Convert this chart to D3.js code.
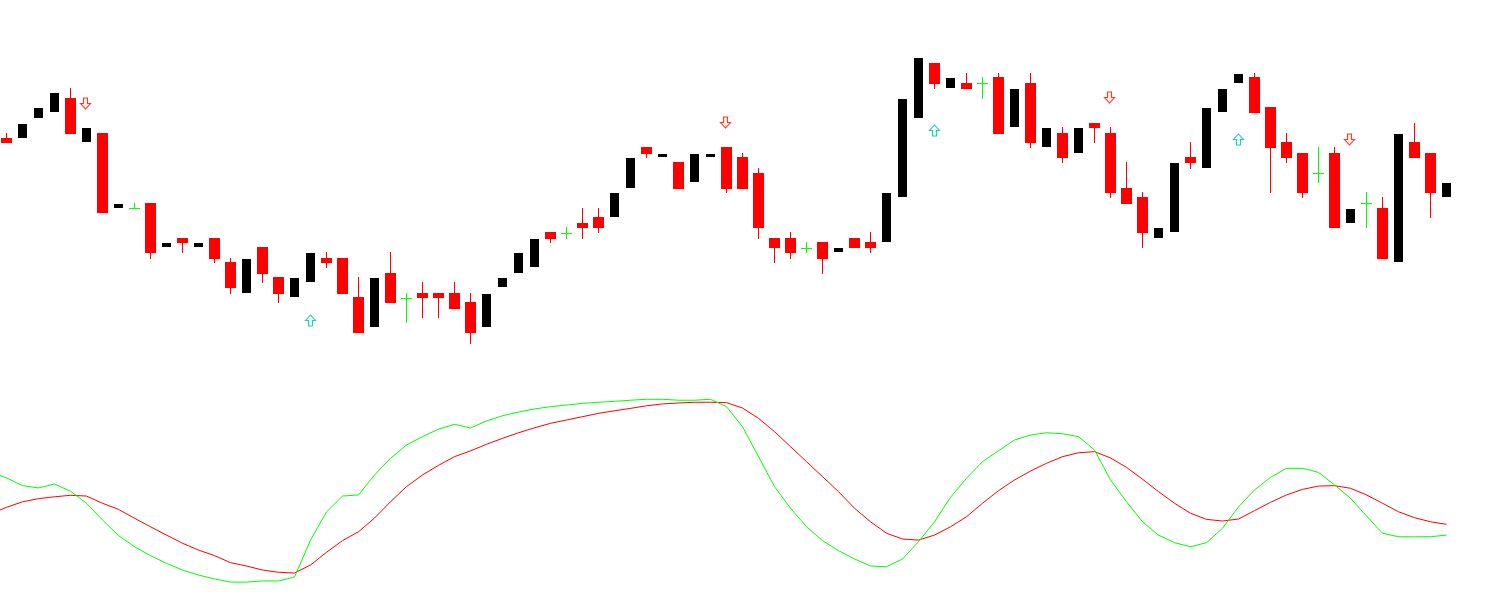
<!DOCTYPE html>
<head>
<meta charset="utf-8">
<script src="https://d3js.org/d3.v7.min.js"></script>
</head>
<body style="margin:0;background:#fff">
<style>
  * { font-family: "DejaVu Sans"; }
  svg { display:block; }
</style>
<div id="viz"></div>
<script>

// price bars (one per bar, left to right)
var openP = [1.2862,1.2862,1.2882,1.2888,1.2902,1.2858,1.2867,1.2792,1.2792,1.2797,
  1.2753,1.2762,1.2753,1.2762,1.2738,1.2707,1.2753,1.2723,1.2703,1.2718,
  1.2742,1.2742,1.2703,1.2673,1.2727,1.2702,1.2707,1.2707,1.2707,1.2698,
  1.2673,1.2713,1.2727,1.2733,1.2768,1.2767,1.2777,1.2783,1.2783,1.2812,
  1.2853,1.2843,1.2838,1.2818,1.2843,1.2853,1.2843,1.2827,1.2762,1.2762,
  1.2752,1.2758,1.2748,1.2762,1.2758,1.2758,1.2803,1.2882,1.2937,1.2912,
  1.2917,1.2917,1.2923,1.2873,1.2917,1.2853,1.2867,1.2847,1.2877,1.2867,
  1.2812,1.2803,1.2762,1.2768,1.2843,1.2832,1.2888,1.2917,1.2923,1.2893,
  1.2858,1.2847,1.2827,1.2847,1.2777,1.2797,1.2792,1.2738,1.2858,1.2847,1.2803];
var highP = [1.2867,1.2876,1.2892,1.2907,1.2912,1.2872,1.2867,1.2796,1.2797,1.2797,
  1.2757,1.2762,1.2757,1.2762,1.2742,1.2741,1.2753,1.2723,1.2722,1.2747,
  1.2748,1.2742,1.2723,1.2722,1.2748,1.2707,1.2718,1.2707,1.2718,1.2707,
  1.2706,1.2722,1.2747,1.2761,1.2768,1.2773,1.2792,1.2792,1.2807,1.2842,
  1.2853,1.2846,1.2838,1.2846,1.2846,1.2853,1.2847,1.2832,1.2762,1.2768,
  1.2758,1.2758,1.2752,1.2762,1.2768,1.2807,1.2901,1.2942,1.2937,1.2922,
  1.2927,1.2923,1.2927,1.2911,1.2927,1.2872,1.2873,1.2872,1.2877,1.2873,
  1.2838,1.2808,1.2772,1.2837,1.2858,1.2892,1.2911,1.2926,1.2927,1.2893,
  1.2867,1.2847,1.2853,1.2853,1.2791,1.2808,1.2803,1.2866,1.2877,1.2847,1.2817];
var lowP = [1.2857,1.2862,1.2882,1.2888,1.2866,1.2858,1.2787,1.2792,1.2792,1.2741,
  1.2753,1.2747,1.2753,1.2737,1.2706,1.2707,1.2717,1.2697,1.2703,1.2718,
  1.2732,1.2706,1.2667,1.2673,1.2697,1.2677,1.2682,1.2682,1.2691,1.2656,
  1.2673,1.2713,1.2727,1.2733,1.2757,1.2761,1.2761,1.2767,1.2783,1.2812,
  1.2842,1.2843,1.2811,1.2818,1.2843,1.2807,1.2811,1.2761,1.2737,1.2741,
  1.2747,1.2726,1.2748,1.2752,1.2747,1.2758,1.2803,1.2882,1.2911,1.2912,
  1.2911,1.2901,1.2866,1.2873,1.2852,1.2853,1.2837,1.2847,1.2857,1.2802,
  1.2796,1.2752,1.2762,1.2768,1.2831,1.2832,1.2888,1.2917,1.2887,1.2807,
  1.2837,1.2802,1.2817,1.2772,1.2777,1.2772,1.2741,1.2738,1.2842,1.2782,1.2803];
var closeP = [1.2857,1.2876,1.2892,1.2907,1.2866,1.2872,1.2787,1.2796,1.2792,1.2747,
  1.2757,1.2757,1.2757,1.2741,1.2712,1.2741,1.2726,1.2706,1.2722,1.2747,
  1.2737,1.2706,1.2667,1.2722,1.2697,1.2702,1.2702,1.2702,1.2691,1.2667,
  1.2706,1.2722,1.2747,1.2761,1.2761,1.2767,1.2772,1.2772,1.2807,1.2842,
  1.2846,1.2846,1.2811,1.2846,1.2846,1.2811,1.2811,1.2772,1.2752,1.2747,
  1.2752,1.2741,1.2752,1.2752,1.2752,1.2807,1.2901,1.2942,1.2916,1.2922,
  1.2911,1.2917,1.2866,1.2911,1.2857,1.2872,1.2842,1.2872,1.2872,1.2807,
  1.2796,1.2767,1.2772,1.2837,1.2837,1.2892,1.2911,1.2926,1.2887,1.2852,
  1.2842,1.2807,1.2827,1.2772,1.2791,1.2797,1.2741,1.2866,1.2842,1.2807,1.2817];

// signal arrows: bar index and price level
var sellBars = [5, 45, 69, 84];
var sellLevel = [1.28965, 1.28775, 1.29025, 1.28605];
var buyBars = [19, 58, 77];
var buyLevel = [1.26795, 1.28695, 1.28605];

// oscillator, first value belongs to the bar before the first visible one
var kLine = [60.0,56.8,52.6,51.4,53.5,49.6,43.1,34.1,25.6,19.6,14.8,
  10.6,7.0,4.3,2.2,0.5,0.5,1.1,1.1,3.2,23.2,
  38.4,47.0,47.6,58.4,67.4,74.6,79.1,83.2,85.8,83.8,
  87.6,90.4,92.4,94.1,95.3,96.2,97.1,97.7,98.2,98.8,
  99.3,99.3,98.8,98.8,99.3,95.3,84.5,68.3,52.1,40.4,
  30.4,22.9,17.5,13.0,9.2,8.8,13.0,22.3,33.1,46.3,
  56.6,65.6,71.5,77.3,80.0,81.2,80.7,79.1,71.9,55.7,
  43.9,33.1,25.9,21.8,19.6,21.8,29.6,41.2,50.3,57.1,
  62.0,62.0,59.8,53.0,45.8,36.2,26.9,25.0,25.0,25.0,25.9];
var dLine = [37.3,40.9,43.9,45.6,46.6,47.4,47.0,43.1,39.8,35.0,30.4,
  25.9,21.5,17.8,14.8,11.0,9.2,7.0,5.8,5.4,9.7,
  16.6,22.9,27.7,35.1,43.9,52.1,58.4,63.6,68.3,71.4,
  75.0,78.2,81.2,83.9,86.3,88.1,89.9,91.7,93.1,94.4,
  95.8,96.8,97.3,97.7,97.7,97.5,94.6,89.0,81.8,73.7,
  65.6,57.5,49.4,40.4,33.1,26.9,23.8,23.2,25.9,30.4,
  35.8,43.1,49.9,55.7,60.5,64.7,68.3,70.4,71.0,67.6,
  62.5,56.1,49.4,43.1,37.7,34.4,33.5,34.6,39.1,43.6,
  47.6,50.6,52.4,52.6,51.2,47.6,43.1,38.5,35.3,33.1,31.7];

var width = 1486, height = 614;

var svg = d3.select("#viz")
  .append("svg")
    .attr("width", width)
    .attr("height", height);

var bars = openP.map(function(o, i) {
  return {i: i, open: o, high: highP[i], low: lowP[i], close: closeP[i]};
});

var x = d3.scaleLinear()
  .domain([0, bars.length - 1])
  .range([6.5, 1446.5]);

var y = d3.scaleLinear()
  .domain([1.2400, 1.3000])
  .range([600, 0]);

var yOsc = d3.scaleLinear()
  .domain([0, 100])
  .range([583, 398]);

function kind(d) {
  if (Math.abs(d.open - d.close) < 1e-7) return "doji";
  return d.close > d.open ? "up" : "down";
}
var colour = {up: "#000000", down: "#ff0000", doji: "#00ff00"};

var candles = svg.append("g").attr("shape-rendering", "crispEdges");

// wicks for down bars and doji
candles.selectAll("line.wick")
  .data(bars.filter(function(d) { return kind(d) != "up"; }))
  .enter().append("line")
    .attr("class", "wick")
    .attr("x1", function(d) { return x(d.i); })
    .attr("x2", function(d) { return x(d.i); })
    .attr("y1", function(d) { return y(d.high); })
    .attr("y2", function(d) { return y(d.low); })
    .attr("stroke", function(d) { return colour[kind(d)]; })
    .attr("stroke-width", 1);

// bodies
candles.selectAll("rect.body")
  .data(bars.filter(function(d) { return kind(d) != "doji"; }))
  .enter().append("rect")
    .attr("class", "body")
    .attr("x", function(d) { return x(d.i) - (kind(d) == "up" ? 4.5 : 5.5); })
    .attr("width", function(d) { return kind(d) == "up" ? 9 : 11; })
    .attr("y", function(d) { return y(Math.max(d.open, d.close)); })
    .attr("height", function(d) { return Math.max(1, y(Math.min(d.open, d.close)) - y(Math.max(d.open, d.close))); })
    .attr("fill", function(d) { return colour[kind(d)]; });

// doji crosses
candles.selectAll("line.cross")
  .data(bars.filter(function(d) { return kind(d) == "doji"; }))
  .enter().append("line")
    .attr("class", "cross")
    .attr("x1", function(d) { return x(d.i) - 5.5; })
    .attr("x2", function(d) { return x(d.i) + 5.5; })
    .attr("y1", function(d) { return Math.round(y(d.close)) + 0.5; })
    .attr("y2", function(d) { return Math.round(y(d.close)) + 0.5; })
    .attr("stroke", colour.doji)
    .attr("stroke-width", 1);

// hollow arrows
function arrowPath(cx, cy, dir) {
  // dir -1 = up, 1 = down
  var p = [[-2, -5.5], [2, -5.5], [2, 0], [5, 0], [0, 5.5], [-5, 0], [-2, 0]];
  return "M" + p.map(function(q) { return (cx + q[0]) + "," + (cy + q[1] * dir); }).join("L") + "Z";
}
var arrows = svg.append("g");
arrows.selectAll("path.sell")
  .data(sellBars)
  .enter().append("path")
    .attr("class", "sell")
    .attr("d", function(b, k) { return arrowPath(x(b) - 1, y(sellLevel[k]), 1); })
    .attr("fill", "#fff0f0")
    .attr("stroke", "#ff3b1f")
    .attr("stroke-width", 1.1);
arrows.selectAll("path.buy")
  .data(buyBars)
  .enter().append("path")
    .attr("class", "buy")
    .attr("d", function(b, k) { return arrowPath(x(b), y(buyLevel[k]), -1); })
    .attr("fill", "#f0fff8")
    .attr("stroke", "#22ccbb")
    .attr("stroke-width", 1.1);

// oscillator
var oscLine = d3.line()
  .x(function(v, i) { return x(i - 1); })
  .y(function(v) { return yOsc(v); });

svg.append("path")
  .datum(dLine)
  .attr("fill", "none")
  .attr("stroke", "#ff0000")
  .attr("stroke-width", 1)
  .attr("d", oscLine);

svg.append("path")
  .datum(kLine)
  .attr("fill", "none")
  .attr("stroke", "#00ff00")
  .attr("stroke-width", 1)
  .attr("d", oscLine);

</script>
</body>
